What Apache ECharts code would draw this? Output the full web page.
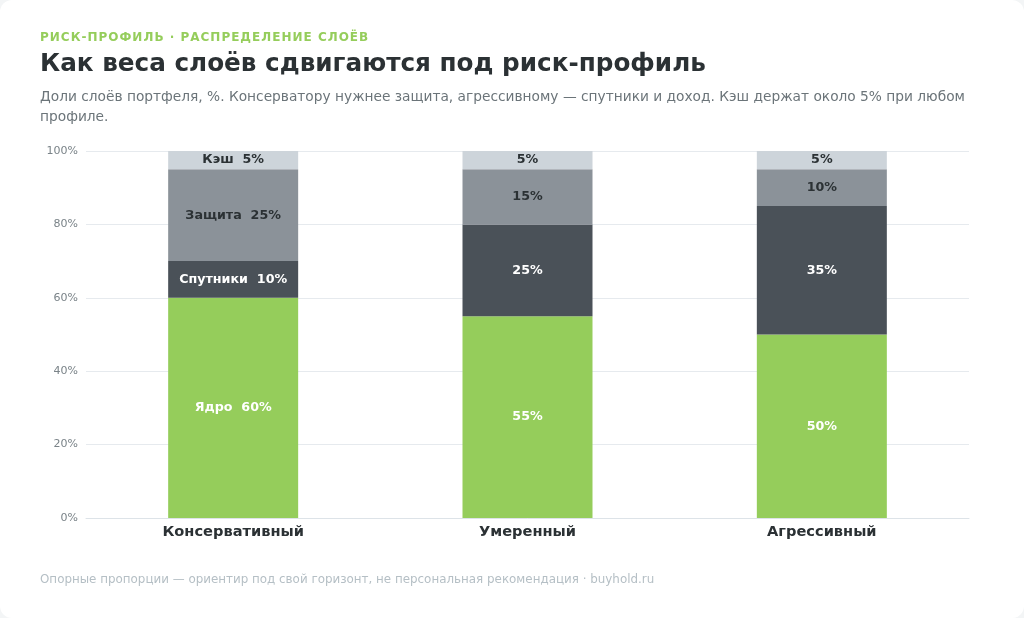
<!DOCTYPE html>
<html>
<head>
<meta charset="utf-8">
<script src="https://cdn.jsdelivr.net/npm/echarts@6/dist/echarts.min.js"></script>
<style>
  html, body { margin: 0; padding: 0; background: #f3f5f6; }
  #wrap { position: relative; width: 1024px; height: 618px; }
  #main { width: 1024px; height: 618px; background: #fff; border-radius: 12px; }
  #eyebrow {
    position: absolute; left: 40px; top: 29px; margin: 0;
    font: bold 12px "DejaVu Sans"; letter-spacing: 1px; color: #95cd5b;
    line-height: 16px; white-space: nowrap;
  }
</style>
</head>
<body>
<div id="wrap">
  <div id="main"></div>
  <div id="eyebrow">РИСК-ПРОФИЛЬ · РАСПРЕДЕЛЕНИЕ СЛОЁВ</div>
</div>
<script>
// профили риска
var profiles = ['Консервативный', 'Умеренный', 'Агрессивный'];
// слои портфеля, % по профилям
var layerNames = ['Ядро', 'Спутники', 'Защита', 'Кэш'];
var core = [60, 55, 50];
var satellites = [10, 25, 35];
var protection = [25, 15, 10];
var cash = [5, 5, 5];
var yTicks = [0, 20, 40, 60, 80, 100];

var layerData = [core, satellites, protection, cash];
var layerColors = ['#95cd5b', '#4a5158', '#8b9299', '#cdd4da'];
var labelColors = ['#ffffff', '#ffffff', '#2b3134', '#2b3134'];

var font = 'DejaVu Sans';
var myChart = echarts.init(document.getElementById('main'));

var series = layerNames.map(function (name, k) {
  return {
    name: name,
    type: 'bar',
    stack: 'total',
    barWidth: 130,
    data: layerData[k],
    itemStyle: { color: layerColors[k] },
    label: {
      show: true,
      position: 'inside',
      fontFamily: font,
      fontSize: 12.7,
      fontWeight: 'bold',
      color: labelColors[k],
      formatter: function (p) {
        // подписи с названием слоя только у первого столбца
        return p.dataIndex === 0 ? name + '  ' + p.value + '%' : p.value + '%';
      }
    }
  };
});

function txt(x, y, text, size, weight, color, extra) {
  var style = {
    x: x, y: y, text: text,
    font: weight + ' ' + size + 'px "' + font + '"',
    fill: color, verticalAlign: 'middle'
  };
  for (var key in extra) style[key] = extra[key];
  return { type: 'text', style: style };
}

myChart.setOption({
  animation: false,
  textStyle: { fontFamily: font },
  graphic: [
    txt(40, 65, 'Как веса слоёв сдвигаются под риск-профиль', 24.7, 'bold', '#2b3134'),
    txt(40, 87, 'Доли слоёв портфеля, %. Консерватору нужнее защита, агрессивному — спутники и доход. Кэш держат около 5% при любом\nпрофиле.',
        13.75, 'normal', '#6b7479', { verticalAlign: 'top', lineHeight: 20 }),
    txt(40, 580, 'Опорные пропорции — ориентир под свой горизонт, не персональная рекомендация · buyhold.ru', 11.9, 'normal', '#b5bfc5')
  ],
  grid: { left: 86, right: 55, top: 151, bottom: 100 },
  xAxis: {
    type: 'category',
    data: profiles,
    axisTick: { show: false },
    axisLine: { lineStyle: { color: '#dde3e8' } },
    axisLabel: { fontSize: 14.6, fontWeight: 'bold', color: '#2b3134', margin: 7, fontFamily: font }
  },
  yAxis: {
    type: 'value',
    min: yTicks[0],
    max: yTicks[yTicks.length - 1],
    interval: 20,
    axisLine: { show: false },
    axisTick: { show: false },
    splitLine: { lineStyle: { color: '#e6eaee' } },
    axisLabel: { formatter: '{value}%', fontSize: 11, color: '#7a8388', margin: 8, fontFamily: font }
  },
  series: series
});
</script>
</body>
</html>
